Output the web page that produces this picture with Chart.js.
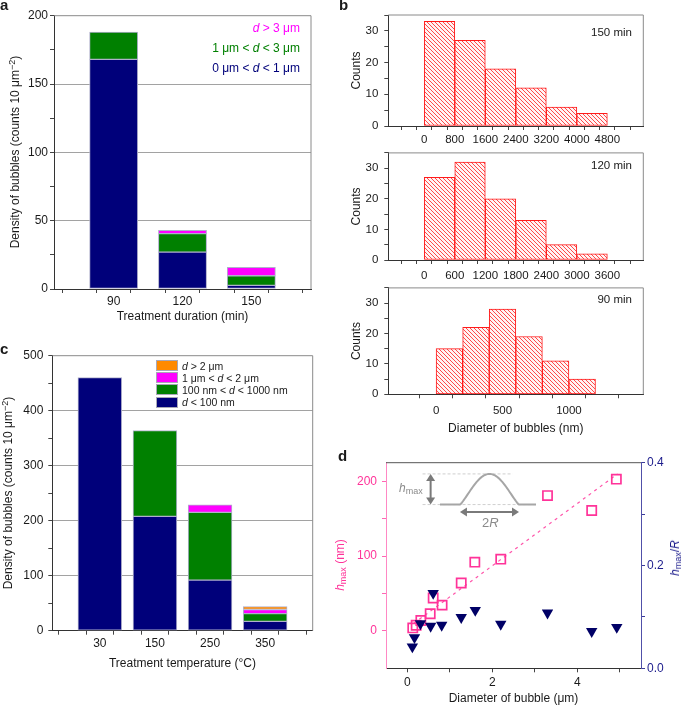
<!DOCTYPE html>
<html><head><meta charset="utf-8">
<script src="https://cdn.jsdelivr.net/npm/chart.js@4.4.1/dist/chart.umd.min.js"></script>
<style>
html,body{margin:0;padding:0;background:#fff;}
#wrap{position:relative;width:685px;height:706px;overflow:hidden;background:#fff;font-family:'Liberation Sans',Arial,Helvetica,sans-serif;color:#1a1a1a;}
canvas{position:absolute;}
.t{position:absolute;white-space:nowrap;line-height:1;}
.rot{transform:translate(-50%,-50%) rotate(-90deg);}
.vc{transform:translateY(-50%);}
.lab{position:absolute;font-weight:bold;font-size:15px;line-height:1;}
.box{position:absolute;width:22px;height:11px;box-sizing:border-box;border:1px solid #a8a8b8;}
sub{font-size:75%;vertical-align:-0.25em;line-height:0;}
sup{font-size:75%;vertical-align:0.45em;line-height:0;}
</style></head><body>
<div id="wrap">
<canvas id="ca" width="320" height="325" style="left:0;top:0"></canvas>
<canvas id="cb1" width="300" height="148" style="left:345px;top:0"></canvas>
<canvas id="cb2" width="300" height="147" style="left:345px;top:140px"></canvas>
<canvas id="cb3" width="300" height="165" style="left:345px;top:275px"></canvas>
<canvas id="cc" width="320" height="345" style="left:0;top:330px"></canvas>
<canvas id="cd" width="355" height="266" style="left:330px;top:440px"></canvas>

<div class="lab" style="left:0;top:-3px">a</div>
<div class="lab" style="left:339px;top:-3px">b</div>
<div class="lab" style="left:0;top:341px">c</div>
<div class="lab" style="left:338px;top:448px">d</div>

<!-- panel a -->
<div class="t rot" style="left:15px;top:152px;font-size:12px">Density of bubbles (counts 10 μm<sup>−2</sup>)</div>
<div class="t vc" style="right:385px;top:28.3px;font-size:12px;color:#ff00ff"><i>d</i> &gt; 3 μm</div>
<div class="t vc" style="right:385px;top:48.3px;font-size:12px;color:#008000">1 μm &lt; <i>d</i> &lt; 3 μm</div>
<div class="t vc" style="right:385px;top:68.3px;font-size:12px;color:#00007a">0 μm &lt; <i>d</i> &lt; 1 μm</div>

<!-- panel b -->
<div class="t vc" style="right:53px;top:33px;font-size:11.5px">150 min</div>
<div class="t vc" style="right:53px;top:166px;font-size:11.5px">120 min</div>
<div class="t vc" style="right:53px;top:300px;font-size:11.5px">90 min</div>

<!-- panel c -->
<div class="t rot" style="left:8px;top:493px;font-size:12px">Density of bubbles (counts 10 μm<sup>−2</sup>)</div>
<div class="box" style="left:156px;top:360px;background:#ff8a00"></div>
<div class="box" style="left:156px;top:372px;background:#ff00ff"></div>
<div class="box" style="left:156px;top:384px;background:#008000"></div>
<div class="box" style="left:156px;top:396.5px;background:#00007a"></div>
<div class="t vc" style="left:182px;top:365.5px;font-size:10.5px"><i>d</i> &gt; 2 μm</div>
<div class="t vc" style="left:182px;top:377.5px;font-size:10.5px">1 μm &lt; <i>d</i> &lt; 2 μm</div>
<div class="t vc" style="left:182px;top:389.5px;font-size:10.5px">100 nm &lt; <i>d</i> &lt; 1000 nm</div>
<div class="t vc" style="left:182px;top:402px;font-size:10.5px"><i>d</i> &lt; 100 nm</div>

<!-- panel d -->
<div class="t rot" style="left:340px;top:565px;font-size:12px;color:#ff3399"><i>h</i><sub>max</sub> (nm)</div>
<div class="t rot" style="left:675px;top:558px;font-size:12px;color:#1c1c8c"><i>h</i><sub>max</sub>/<i>R</i></div>
<div class="t" style="left:399px;top:482px;font-size:12px;color:#8a8a8a"><i>h</i><sub>max</sub></div>
<div class="t" style="left:482px;top:516px;font-size:13px;color:#8a8a8a">2<i>R</i></div>
</div>

<script>
// ---------- data ----------
// panel a
const aCategories = ['90', '120', '150'];
const aSmall = [168, 27, 2.7];      // 0 µm < d < 1 µm
const aMid = [20, 13.5, 7];         // 1 µm < d < 3 µm
const aLarge = [null, 2.5, 6.2];    // d > 3 µm
const aXTicks = [-0.5, 0, 0.5, 1, 1.5, 2, 2.5];
const aYTicks = [0, 25, 50, 75, 100, 125, 150, 175, 200];
const aYLabels = [0, 50, 100, 150, 200];
const aGridLines = [50, 100, 150];

// panel b
const b150Edges = [0, 800, 1600, 2400, 3200, 4000, 4800];
const b150Counts = [33, 27, 18, 12, 6, 4];
const b150XTicks = [-400, 0, 400, 800, 1200, 1600, 2000, 2400, 2800, 3200, 3600, 4000, 4400, 4800, 5200];
const b150XLabels = [0, 800, 1600, 2400, 3200, 4000, 4800];
const b120Edges = [0, 600, 1200, 1800, 2400, 3000, 3600];
const b120Counts = [27, 32, 20, 13, 5, 2];
const b120XTicks = [-300, 0, 300, 600, 900, 1200, 1500, 1800, 2100, 2400, 2700, 3000, 3300, 3600, 3900];
const b120XLabels = [0, 600, 1200, 1800, 2400, 3000, 3600];
const b90Edges = [0, 200, 400, 600, 800, 1000, 1200];
const b90Counts = [15, 22, 28, 19, 11, 5];
const b90XTicks = [0, 250, 500, 750, 1000, 1250];
const b90XLabels = [0, 500, 1000];
const bYTicks = [0, 5, 10, 15, 20, 25, 30, 35];
const bYLabels = [0, 10, 20, 30];

// panel c
const cCategories = ['30', '150', '250', '350'];
const cTiny = [460, 208, 92, 17];       // d < 100 nm
const cSmall = [null, 156, 123, 14];    // 100 nm < d < 1000 nm
const cMid = [null, null, 14, 7.5];     // 1 µm < d < 2 µm
const cLarge = [null, null, null, 5.5]; // d > 2 µm
const cXTicks = [-0.5, 0, 0.5, 1, 1.5, 2, 2.5, 3, 3.5];
const cYTicks = [0, 50, 100, 150, 200, 250, 300, 350, 400, 450, 500];
const cYLabels = [0, 100, 200, 300, 400, 500];
const cGridLines = [100, 200, 300, 400];

// panel d
const dHmaxX = [0.13, 0.21, 0.32, 0.54, 0.61, 0.82, 1.27, 1.59, 2.2, 3.3, 4.34, 4.92];
const dHmax = [4, 7.5, 14, 23, 44, 34.5, 64, 92, 96, 181, 161, 203];
const dRatioX = [0.12, 0.17, 0.31, 0.55, 0.61, 0.81, 1.27, 1.6, 2.2, 3.3, 4.34, 4.93];
const dRatio = [0.042, 0.06, 0.087, 0.082, 0.146, 0.084, 0.099, 0.113, 0.086, 0.108, 0.072, 0.080];
const dFitX = [0.15, 4.95];
const dFitY = [10, 210];
const dXTicks = [0, 1, 2, 3, 4, 5];
const dXLabels = [0, 2, 4];
const dYTicks = [0, 50, 100, 150, 200];
const dYLabels = [0, 100, 200];
const dY2Ticks = [0, 0.1, 0.2, 0.3, 0.4];
const dY2Labels = [0, 0.2, 0.4];

// ---------- styling / helpers ----------
const NAVY = '#00007a', GREEN = '#008000', MAGENTA = '#ff00ff', ORANGE = '#ff8a00';
const PINK = '#ff3399', DNAVY = '#000066';
Chart.defaults.font.family = "'Liberation Sans', Arial, Helvetica, sans-serif";
Chart.defaults.color = '#1a1a1a';

const has = (arr, v) => arr.some(a => Math.abs(a - v) < 1e-9);
const tickSet = vals => s => { s.ticks = vals.map(v => ({ value: v })); };
const fixW = w => s => { s.width = w; };
const fixH = h => s => { s.height = h; };

const framePlugin = {
  id: 'frame',
  afterDatasetsDraw(chart, args, opts) {
    const { ctx, chartArea: ca } = chart;
    ctx.save();
    ctx.lineWidth = 1;
    ctx.strokeStyle = opts.color || '#888';
    ctx.beginPath();
    ctx.moveTo(ca.left, ca.top);
    ctx.lineTo(ca.right, ca.top);
    if (!opts.topOnly) ctx.lineTo(ca.right, ca.bottom);
    ctx.stroke();
    ctx.restore();
  }
};

const baseOpts = { responsive: false, animation: false, devicePixelRatio: 1 };

function pts(xs, ys) { return ys.map((y, i) => ({ x: xs[i], y: y })); }
const idx = arr => arr.map((_, i) => i);

function stackedChart(id, cats, series, colors, xTicks, yTicks, yLabels, gridLines, g) {
  new Chart(document.getElementById(id), {
    type: 'bar',
    data: {
      datasets: series.map((s, k) => ({ data: pts(idx(cats), s), backgroundColor: colors[k] }))
    },
    options: Object.assign({}, baseOpts, {
      layout: { padding: g.pad },
      datasets: { bar: { barThickness: 'flex', barPercentage: g.barPct, categoryPercentage: 1,
        borderColor: '#b0b0cc', borderWidth: 1, borderSkipped: false } },
      plugins: { legend: { display: false }, tooltip: { enabled: false }, frame: { color: '#8a8a8a' } },
      scales: {
        x: { type: 'linear', stacked: true, min: -0.6, max: cats.length - 0.4,
          afterBuildTicks: tickSet(xTicks), afterFit: fixH(g.xh),
          ticks: { autoSkip: false, maxRotation: 0, minRotation: 0, padding: g.xpad, font: { size: 12 },
            callback: v => Number.isInteger(v) ? cats[v] : '' },
          grid: { drawOnChartArea: false, tickLength: 4, tickColor: '#444' },
          border: { color: '#333' },
          title: { display: true, text: g.xTitle, font: { size: 12 }, color: '#1a1a1a', padding: { top: 0, bottom: g.xtp } } },
        y: { type: 'linear', stacked: true, min: 0, max: g.ymax,
          afterBuildTicks: tickSet(yTicks), afterFit: fixW(g.yw),
          ticks: { autoSkip: false, padding: g.ypad, font: { size: 12 },
            callback: v => has(yLabels, v) ? String(v) : '' },
          grid: { color: c => (c.tick && has(gridLines, c.tick.value)) ? '#a2a2a2' : 'rgba(0,0,0,0)',
            tickLength: 4, tickColor: '#444' },
          border: { color: '#333' } }
      }
    }),
    plugins: [framePlugin]
  });
}

function makeHatch(canvas) {
  const tile = document.createElement('canvas');
  tile.width = 4; tile.height = 4;
  const g = tile.getContext('2d');
  g.fillStyle = '#fff4f4';
  g.fillRect(0, 0, 4, 4);
  g.strokeStyle = '#ff4a4a';
  g.lineWidth = 1;
  g.beginPath();
  g.moveTo(-1, -1); g.lineTo(5, 5);
  g.moveTo(-1, 3); g.lineTo(1, 5);
  g.moveTo(3, -1); g.lineTo(5, 1);
  g.stroke();
  return canvas.getContext('2d').createPattern(tile, 'repeat');
}

function histChart(id, edges, counts, xmin, xmax, xTicks, xLabels, g) {
  const cv = document.getElementById(id);
  const centers = counts.map((_, i) => (edges[i] + edges[i + 1]) / 2);
  new Chart(cv, {
    type: 'bar',
    data: { datasets: [{ data: pts(centers, counts), backgroundColor: makeHatch(cv),
      borderColor: '#ff1a1a', borderWidth: 1, borderSkipped: false,
      barThickness: 'flex', barPercentage: 1, categoryPercentage: 1 }] },
    options: Object.assign({}, baseOpts, {
      layout: { padding: g.pad },
      plugins: { legend: { display: false }, tooltip: { enabled: false }, frame: { color: '#8a8a8a' } },
      scales: {
        x: { type: 'linear', min: xmin, max: xmax,
          afterBuildTicks: tickSet(xTicks), afterFit: fixH(g.xh),
          ticks: { autoSkip: false, maxRotation: 0, minRotation: 0, padding: g.xpad, font: { size: 11.5 },
            callback: v => has(xLabels, v) ? String(v) : '' },
          grid: { drawOnChartArea: false, tickLength: 4, tickColor: '#444' },
          border: { color: '#333' },
          title: g.xTitle ? { display: true, text: g.xTitle, font: { size: 12 }, color: '#1a1a1a', padding: { top: 0, bottom: g.xtp } } : { display: false } },
        y: { type: 'linear', min: 0, max: 35,
          afterBuildTicks: tickSet(bYTicks), afterFit: fixW(43.3),
          ticks: { autoSkip: false, padding: 6, font: { size: 11.5 },
            callback: v => has(bYLabels, v) ? String(v) : '' },
          grid: { drawOnChartArea: false, tickLength: 4, tickColor: '#444' },
          border: { color: '#333' },
          title: { display: true, text: 'Counts', font: { size: 12 }, color: '#1a1a1a', padding: { top: 4.5, bottom: 0 } } }
      }
    }),
    plugins: [framePlugin]
  });
}

// ---------- panel a ----------
stackedChart('ca', aCategories, [aSmall, aMid, aLarge], [NAVY, GREEN, MAGENTA],
  aXTicks, aYTicks, aYLabels, aGridLines,
  { pad: { left: 0, top: 15.7, right: 9, bottom: 0 }, barPct: 0.7, xh: 36, xpad: 1, xtp: 1,
    xTitle: 'Treatment duration (min)', ymax: 200, yw: 54, ypad: 2 });

// ---------- panel b ----------
histChart('cb1', b150Edges, b150Counts, -720, 5520, b150XTicks, b150XLabels,
  { pad: { left: 0, top: 15, right: 1.7, bottom: 0 }, xh: 22, xpad: 3 });
histChart('cb2', b120Edges, b120Counts, -540, 4140, b120XTicks, b120XLabels,
  { pad: { left: 0, top: 10, right: 1.7, bottom: 0 }, xh: 27, xpad: 4.5 });
histChart('cb3', b90Edges, b90Counts, -200, 1400, b90XTicks, b90XLabels,
  { pad: { left: 0, top: 9.3, right: 1.7, bottom: 0 }, xh: 45.7, xpad: 5.5,
    xTitle: 'Diameter of bubbles (nm)', xtp: 3.8 });

// ---------- panel c ----------
stackedChart('cc', cCategories, [cTiny, cSmall, cMid, cLarge], [NAVY, GREEN, MAGENTA, ORANGE],
  cXTicks, cYTicks, cYLabels, cGridLines,
  { pad: { left: 0, top: 25.7, right: 7.3, bottom: 0 }, barPct: 0.795, xh: 44.3, xpad: 2, xtp: 4.3,
    xTitle: 'Treatment temperature (°C)', ymax: 500, yw: 52.3, ypad: 5 });

// ---------- panel d ----------
const insetPlugin = {
  id: 'inset',
  afterDatasetsDraw(chart) {
    const { ctx } = chart;
    const X = v => chart.scales.x.getPixelForValue(v);
    const Y = v => chart.scales.y.getPixelForValue(v);
    const top = 210, base = 169, arrowY = 159;
    ctx.save();
    // dashed guides
    ctx.strokeStyle = '#cfcfcf'; ctx.lineWidth = 1; ctx.setLineDash([3, 2]);
    ctx.beginPath();
    ctx.moveTo(X(0.36), Y(top)); ctx.lineTo(X(2.48), Y(top));
    ctx.moveTo(X(0.36), Y(base)); ctx.lineTo(X(3.03), Y(base));
    ctx.stroke();
    ctx.setLineDash([]);
    // bump profile
    ctx.strokeStyle = '#a6a6a6'; ctx.lineWidth = 2;
    ctx.beginPath();
    ctx.moveTo(X(0.77), Y(base));
    const a = 1.24, b = 2.63;
    for (let i = 0; i <= 60; i++) {
      const t = i / 60;
      const h = Math.pow(0.5 - 0.5 * Math.cos(2 * Math.PI * t), 0.6);
      ctx.lineTo(X(a + (b - a) * t), Y(base + (top - base) * h));
    }
    ctx.lineTo(X(3.03), Y(base));
    ctx.stroke();
    // arrows
    ctx.strokeStyle = '#7a7a7a'; ctx.fillStyle = '#7a7a7a'; ctx.lineWidth = 2;
    const head = (x, y, dx, dy) => {
      const L = 7, W = 4.5;
      ctx.beginPath();
      ctx.moveTo(x, y);
      ctx.lineTo(x - dx * L - dy * W, y - dy * L + dx * W);
      ctx.lineTo(x - dx * L + dy * W, y - dy * L - dx * W);
      ctx.closePath(); ctx.fill();
    };
    const vx = X(0.55), y1 = Y(top), y2 = Y(base);
    ctx.beginPath(); ctx.moveTo(vx, y1 + 5); ctx.lineTo(vx, y2 - 5); ctx.stroke();
    head(vx, y1, 0, -1); head(vx, y2, 0, 1);
    const hy = Y(arrowY), x1 = X(a), x2 = X(b);
    ctx.beginPath(); ctx.moveTo(x1 + 5, hy); ctx.lineTo(x2 - 5, hy); ctx.stroke();
    head(x1, hy, -1, 0); head(x2, hy, 1, 0);
    ctx.restore();
  }
};

new Chart(document.getElementById('cd'), {
  type: 'scatter',
  data: {
    datasets: [
      { type: 'scatter', data: pts(dRatioX, dRatio), yAxisID: 'y2', pointStyle: 'triangle', pointRotation: 180,
        pointRadius: 6.6, backgroundColor: DNAVY, borderColor: DNAVY, borderWidth: 0, order: 0 },
      { type: 'scatter', data: pts(dHmaxX, dHmax), yAxisID: 'y', pointStyle: 'rect', pointRadius: 6.5,
        borderColor: PINK, borderWidth: 1.7, backgroundColor: 'rgba(0,0,0,0)', order: 1 },
      { type: 'line', data: pts(dFitX, dFitY), yAxisID: 'y', borderColor: '#ff55aa', borderWidth: 1.2,
        borderDash: [3, 4], pointRadius: 0, fill: false, order: 2 }
    ]
  },
  options: Object.assign({}, baseOpts, {
    layout: { padding: { left: 0, top: 22.7, right: 0, bottom: 0 } },
    plugins: { legend: { display: false }, tooltip: { enabled: false }, frame: { color: '#555', topOnly: true } },
    scales: {
      x: { type: 'linear', min: -0.5, max: 5.5, afterBuildTicks: tickSet(dXTicks), afterFit: fixH(37.7),
        ticks: { autoSkip: false, maxRotation: 0, padding: 3, font: { size: 12 },
          callback: v => has(dXLabels, v) ? String(v) : '' },
        grid: { drawOnChartArea: false, tickLength: 4, tickColor: '#444' },
        border: { color: '#333' },
        title: { display: true, text: 'Diameter of bubble (μm)', font: { size: 12 }, color: '#1a1a1a', padding: { top: 0, bottom: 0 } } },
      y: { type: 'linear', position: 'left', min: -50, max: 225, afterBuildTicks: tickSet(dYTicks), afterFit: fixW(56),
        ticks: { autoSkip: false, padding: 5, font: { size: 12 }, color: PINK,
          callback: v => has(dYLabels, v) ? String(v) : '' },
        grid: { drawOnChartArea: false, tickLength: 4, tickColor: '#ff66b3' },
        border: { color: '#ff88c4' } },
      y2: { type: 'linear', position: 'right', min: 0, max: 0.4, afterBuildTicks: tickSet(dY2Ticks), afterFit: fixW(44),
        ticks: { autoSkip: false, padding: 2, font: { size: 12 }, color: '#1c1c8c',
          callback: v => has(dY2Labels, v) ? v.toFixed(1) : '' },
        grid: { drawOnChartArea: false, tickLength: 4, tickColor: '#3a3a9a' },
        border: { color: '#5050a8' } }
    }
  }),
  plugins: [framePlugin, insetPlugin]
});
</script>
</body></html>
